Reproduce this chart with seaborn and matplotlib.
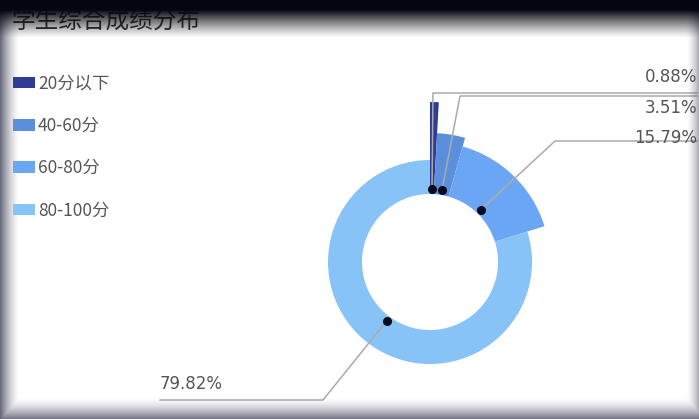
import numpy as np
import matplotlib
matplotlib.use('Agg')
import matplotlib.pyplot as plt
from matplotlib.patches import Wedge, Patch
import seaborn as sns

# data
categories = ['20分以下', '40-60分', '60-80分', '80-100分']
counts = [1, 4, 18, 91]
# rose radius for each slice (px)
outer_r = [160, 129, 120, 102]
colors = ['#2f3c96', '#5b8fdc', '#6aa6f4', '#88c3f8']

sns.set_theme(style='white')
plt.rcParams['font.family'] = ['Noto Sans CJK SC', 'DejaVu Sans']

W, H = 699, 419
fig = plt.figure(figsize=(W / 100, H / 100), dpi=100)
ax = fig.add_axes([0, 0, 1, 1])
ax.set_xlim(0, W)
ax.set_ylim(H, 0)
ax.set_aspect('equal')
ax.axis('off')

cx, cy, inner = 430, 262, 68
total = sum(counts)
pal = sns.color_palette(colors)

start = 0
dots = []
for i, v in enumerate(counts):
    span = v / total * 360
    # clockwise from 12 o'clock (y axis is inverted)
    w = Wedge((cx, cy), outer_r[i], start - 90, start + span - 90,
              width=outer_r[i] - inner, facecolor=pal[i], edgecolor='none')
    ax.add_patch(w)
    mid = np.deg2rad(start + span / 2 - 90)
    dots.append((cx + 73 * np.cos(mid), cy + 73 * np.sin(mid)))
    start += span

labels = [f'{v / total * 100:.2f}%' for v in counts]

# label lines: elbow point and end of horizontal run
elbows = [(433, 93), (460, 96), (555, 141), (323, 400)]
ends = [697, 697, 697, 160]
text_pos = [(697, 77, 'right'), (697, 108, 'right'), (697, 138, 'right'), (160, 384, 'left')]

for i in range(len(counts)):
    dx, dy = dots[i]
    ex, ey = elbows[i]
    ax.plot([dx, ex, ends[i]], [dy, ey, ey], color='#aaaaaa', lw=1.1, zorder=3)
    ax.plot(dx, dy, 'o', color='#0a0a1e', ms=5.5, zorder=4)
    tx, ty, ha = text_pos[i]
    ax.text(tx, ty, labels[i], ha=ha, va='center', fontsize=12,
            color='#555555', family='DejaVu Sans', zorder=5)

ax.text(12, 21, '学生综合成绩分布', fontsize=17, color='#333333', va='center')

handles = [Patch(facecolor=pal[i], edgecolor='none') for i in range(len(categories))]
fig.legend(handles, categories, loc='upper left', bbox_to_anchor=(-3 / W, 1 - 59 / H),
           frameon=False, fontsize=12.5, labelcolor='#555555', handlelength=1.26,
           handleheight=0.63, handletextpad=0.2, labelspacing=1.4)

# screenshot vignette around edges
yy, xx = np.mgrid[0:H, 0:W] + 0.5
side = np.maximum.reduce([
    0.8 * np.clip(1 - xx / 20, 0, 1) ** 1.6,
    0.72 * np.clip((yy - 397) / 22, 0, 1) ** 1.6,
    0.45 * np.clip((xx - 686) / 13, 0, 1) ** 1.6,
])
ov1 = np.zeros((H, W, 4))
ov1[..., 0], ov1[..., 1], ov1[..., 2] = 60 / 255, 60 / 255, 85 / 255
ov1[..., 3] = side
ax.imshow(ov1, extent=(0, W, H, 0), zorder=10, interpolation='bilinear')

top = np.clip((38 - yy) / 28, 0, 1) ** 1.2
ov2 = np.zeros((H, W, 4))
ov2[..., 0], ov2[..., 1], ov2[..., 2] = 5 / 255, 5 / 255, 15 / 255
ov2[..., 3] = top
ax.imshow(ov2, extent=(0, W, H, 0), zorder=11, interpolation='bilinear')
ax.set_xlim(0, W)
ax.set_ylim(H, 0)

fig.savefig('out.png', dpi=100)
